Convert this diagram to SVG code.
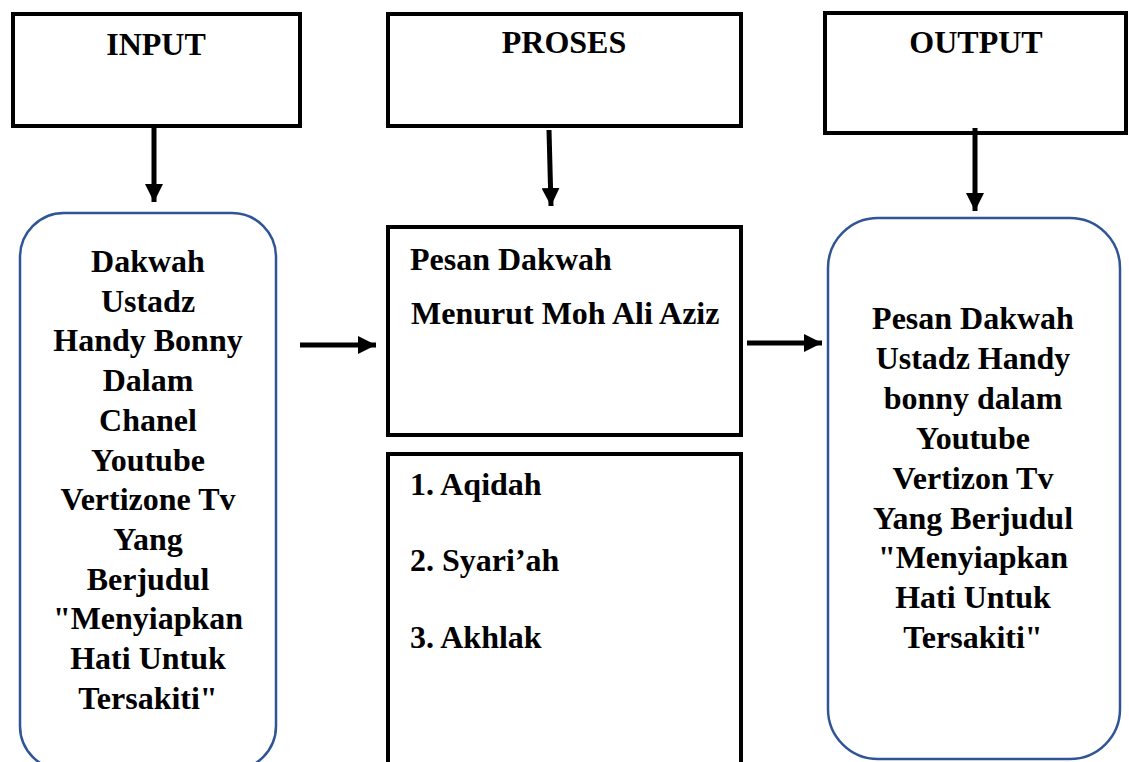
<svg xmlns="http://www.w3.org/2000/svg" width="1129" height="762" viewBox="0 0 1129 762">
<style>
.hdr{fill:#fff;stroke:#000;stroke-width:4}
.blk{fill:#fff;stroke:#000;stroke-width:4}
.rnd{fill:#fff;stroke:#2F5597;stroke-width:2.5}
text{font-family:"Liberation Serif","Times New Roman",serif;font-weight:bold;font-size:32px;fill:#000}
.c{text-anchor:middle}
.t{font-size:32px}
.con{stroke:#000;stroke-width:5;fill:none}
</style>
<defs>
<marker id="ah" viewBox="0 0 10 10" refX="10" refY="5" markerWidth="3.6" markerHeight="3.6" markerUnits="strokeWidth" orient="auto">
<path d="M0,0 L10,5 L0,10 Z" fill="#000"/>
</marker>
</defs>
<g id="input">
<rect class="hdr" x="13" y="14" width="287" height="112"/>
<text class="c t" x="156" y="55">INPUT</text>
</g>
<g id="proses">
<rect class="hdr" x="388" y="14" width="353" height="112"/>
<text class="c t" x="564" y="53">PROSES</text>
</g>
<g id="output">
<rect class="hdr" x="825" y="13" width="301" height="120"/>
<text class="c t" x="976" y="53">OUTPUT</text>
</g>
<g id="input-detail">
<rect class="rnd" x="20" y="213" width="256" height="557" rx="44" ry="44"/>
<text class="c" x="148" y="272">Dakwah</text>
<text class="c" x="148" y="312">Ustadz</text>
<text class="c" x="148" y="351">Handy Bonny</text>
<text class="c" x="148" y="391">Dalam</text>
<text class="c" x="148" y="431">Chanel</text>
<text class="c" x="148" y="471">Youtube</text>
<text class="c" x="148" y="510">Vertizone Tv</text>
<text class="c" x="148" y="550">Yang</text>
<text class="c" x="148" y="590">Berjudul</text>
<text class="c" x="148" y="629">"Menyiapkan</text>
<text class="c" x="148" y="669">Hati Untuk</text>
<text class="c" x="148" y="709">Tersakiti"</text>
</g>
<g id="proses-detail">
<rect class="blk" x="388" y="227" width="353" height="208"/>
<text x="410" y="270">Pesan Dakwah</text>
<text x="411" y="324">Menurut Moh Ali Aziz</text>
</g>
<g id="proses-list">
<rect class="blk" x="388" y="454" width="353" height="340"/>
<text x="410" y="495">1. Aqidah</text>
<text x="410" y="571">2. Syari’ah</text>
<text x="410" y="648">3. Akhlak</text>
</g>
<g id="output-detail">
<rect class="rnd" x="828" y="218" width="292" height="541" rx="50" ry="50"/>
<text class="c" x="973" y="329">Pesan Dakwah</text>
<text class="c" x="973" y="369">Ustadz Handy</text>
<text class="c" x="973" y="409">bonny dalam</text>
<text class="c" x="973" y="449">Youtube</text>
<text class="c" x="973" y="489">Vertizon Tv</text>
<text class="c" x="973" y="529">Yang Berjudul</text>
<text class="c" x="973" y="568">"Menyiapkan</text>
<text class="c" x="973" y="608">Hati Untuk</text>
<text class="c" x="973" y="648">Tersakiti"</text>
</g>
<g id="connectors">
<line class="con" x1="154" y1="128" x2="154" y2="202" marker-end="url(#ah)"/>
<line class="con" x1="549" y1="130" x2="551" y2="206" marker-end="url(#ah)"/>
<line class="con" x1="975" y1="128" x2="975" y2="211" marker-end="url(#ah)"/>
<line class="con" x1="300" y1="345" x2="376" y2="345" marker-end="url(#ah)"/>
<line class="con" x1="747" y1="343" x2="822" y2="343" marker-end="url(#ah)"/>
</g>
</svg>
